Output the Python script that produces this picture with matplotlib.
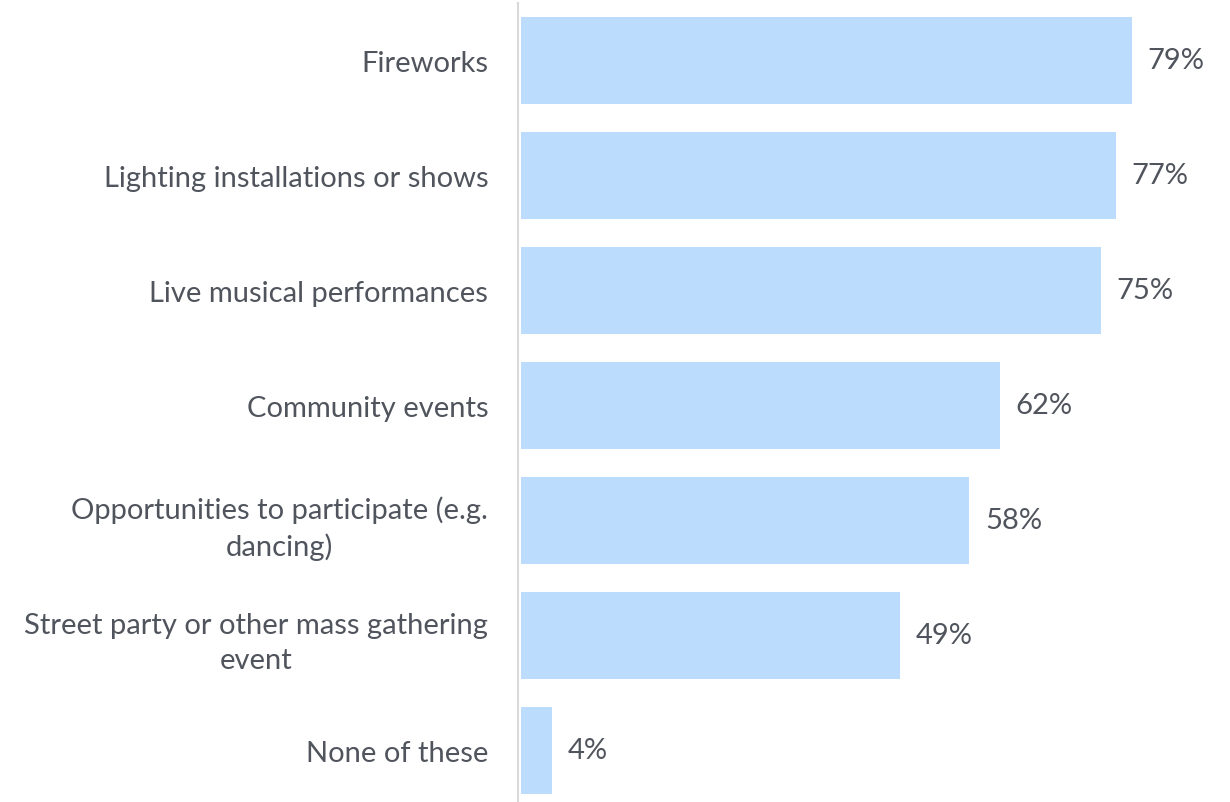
import matplotlib.pyplot as plt

# survey answers, top to bottom
categories = [
    "Fireworks",
    "Lighting installations or shows",
    "Live musical performances",
    "Community events",
    "Opportunities to participate (e.g.\ndancing)",
    "Street party or other mass gathering\nevent",
    "None of these",
]
percent = [79, 77, 75, 62, 58, 49, 4]

plt.rcParams['font.family'] = ['Lato', 'DejaVu Sans']
text_col = '#50545c'
fsize = 21

fig = plt.figure(figsize=(12.3, 8.03), dpi=100)
ax = fig.add_axes([521 / 1230, -0.007, 1 - 521 / 1230, 1.0026])

# spines first: set_position resets the ticks
for s in ['top', 'right', 'bottom']:
    ax.spines[s].set_visible(False)
ax.spines['left'].set_color('#d9d9d9')
ax.spines['left'].set_linewidth(1.5)
ax.spines['left'].set_position(('outward', 2))

pos = list(range(len(categories)))
ax.barh(pos, percent, height=0.757, color='#bbdcfc')
ax.set_ylim(len(categories) - 0.5, -0.5)
ax.set_xlim(0, 91.7)

# value labels next to each bar
for y, v in zip(pos, percent):
    ax.text(v + 2.0, y, f"{v}%", va='center', ha='left',
            fontsize=fsize, color=text_col)

ax.set_yticks(pos)
ax.tick_params(axis='y', length=0, pad=21.5, labelsize=fsize, labelcolor=text_col)
ax.set_yticklabels(categories, ha='right', ma='center', linespacing=1.45)
ax.set_xticks([])

fig.savefig('out.png', dpi=100)
